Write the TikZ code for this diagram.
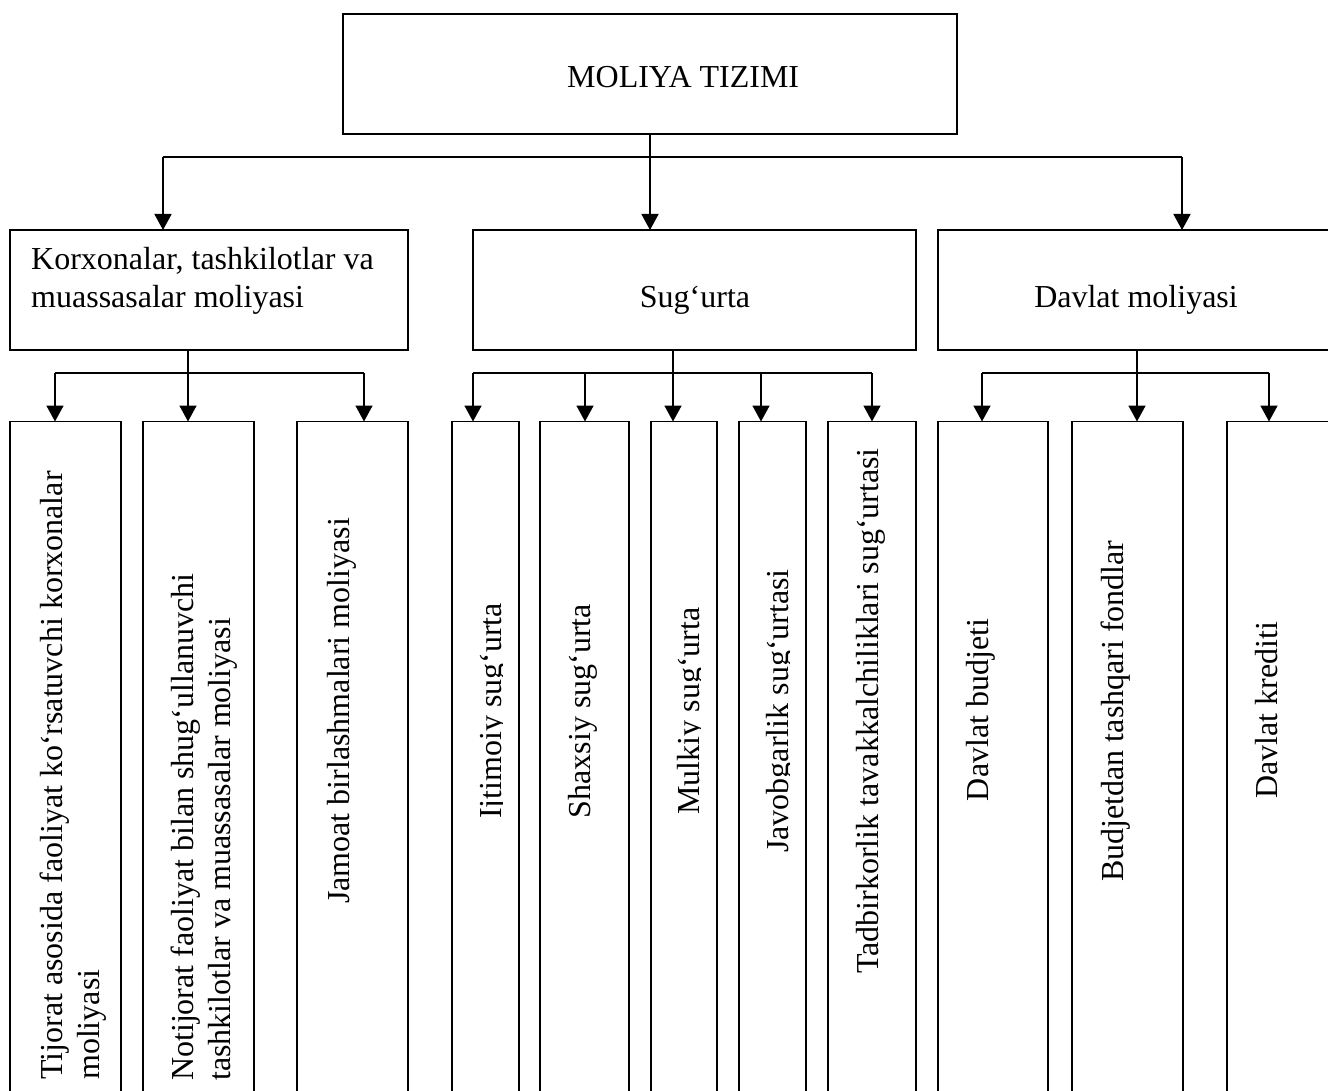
\documentclass[tikz,border=0pt]{standalone}
\usepackage{fontspec}
\setmainfont{Liberation Serif}
\usetikzlibrary{arrows.meta}
\begin{document}
\begin{tikzpicture}[x=1pt,y=-1pt,
  box/.style={draw, line width=1.8pt, rectangle, inner sep=0pt, outer sep=0pt},
  ln/.style={line width=1.8pt},
  arr/.style={line width=1.8pt, -{Triangle[width=17pt,length=16pt]}},
  txt/.style={inner sep=0pt, font=\fontsize{32}{37}\selectfont},
  vtxt/.style={txt, rotate=90}]
\useasboundingbox (0,0) rectangle (1328,1091);
\clip (0,0) rectangle (1328,1091);
% level 1
\node[box, minimum width=614pt, minimum height=120pt] (top) at (650,74) {};
% level 2
\node[box, minimum width=398pt, minimum height=120pt] (k) at (209,290) {};
\node[box, minimum width=443pt, minimum height=120pt] (s) at (694.5,290) {};
\node[box, minimum width=398pt, minimum height=120pt] (d) at (1137,290) {};
% level 3
\node[box, minimum width=111pt, minimum height=690pt] (k1) at (65.5,766.5) {};
\node[box, minimum width=111pt, minimum height=690pt] (k2) at (198.5,766.5) {};
\node[box, minimum width=111pt, minimum height=690pt] (k3) at (352.5,766.5) {};
\node[box, minimum width=67pt, minimum height=690pt] (s1) at (485.5,766.5) {};
\node[box, minimum width=89pt, minimum height=690pt] (s2) at (584.5,766.5) {};
\node[box, minimum width=66pt, minimum height=690pt] (s3) at (684,766.5) {};
\node[box, minimum width=67pt, minimum height=690pt] (s4) at (772.5,766.5) {};
\node[box, minimum width=88pt, minimum height=690pt] (s5) at (872,766.5) {};
\node[box, minimum width=110pt, minimum height=690pt] (d1) at (993,766.5) {};
\node[box, minimum width=111pt, minimum height=690pt] (d2) at (1127.5,766.5) {};
\node[box, minimum width=111pt, minimum height=690pt] (d3) at (1282.5,766.5) {};
% texts
\node[txt, anchor=base west] (toptxt) at (567,88) {MOLIYA TIZIMI};
\node[txt, anchor=base west] (ktxt1) at (31,270) {Korxonalar, tashkilotlar va};
\node[txt, anchor=base west] (ktxt2) at (31,308) {muassasalar moliyasi};
\node[txt, anchor=base] (stxt) at (695,308) {Sug‘urta};
\node[txt, anchor=base] (dtxt) at (1136,308) {Davlat moliyasi};
\node[vtxt, anchor=base west] (k1a) at (62,1080) {Tijorat asosida faoliyat ko‘rsatuvchi korxonalar};
\node[vtxt, anchor=base west] (k1b) at (99,1080) {moliyasi};
\node[vtxt, anchor=base west] (k2a) at (193,1081) {Notijorat faoliyat bilan shug‘ullanuvchi};
\node[vtxt, anchor=base west] (k2b) at (230,1081) {tashkilotlar va muassasalar moliyasi};
\node[vtxt, anchor=base] (k3t) at (349,711) {Jamoat birlashmalari moliyasi};
\begin{scope}
  \clip (452,421) rectangle (502,1091);
  \node[vtxt, anchor=base] (s1t) at (501,711) {Ijtimoiy sug‘urta};
\end{scope}
\node[vtxt, anchor=base] (s2t) at (590,711) {Shaxsiy sug‘urta};
\begin{scope}
  \clip (651,421) rectangle (700,1091);
  \node[vtxt, anchor=base] (s3t) at (699,711) {Mulkiy sug‘urta};
\end{scope}
\begin{scope}
  \clip (739,421) rectangle (789,1091);
  \node[vtxt, anchor=base] (s4t) at (788,711) {Javobgarlik sug‘urtasi};
\end{scope}
\node[vtxt, anchor=base] (s5t) at (878,711) {Tadbirkorlik tavakkalchiliklari sug‘urtasi};
\node[vtxt, anchor=base] (d1t) at (988,710) {Davlat budjeti};
\node[vtxt, anchor=base] (d2t) at (1123,711) {Budjetdan tashqari fondlar};
\node[vtxt, anchor=base] (d3t) at (1277,710) {Davlat krediti};
% connectors level 1 -> 2
\coordinate (j0) at (650,157);
\coordinate (h0L) at (163,157);
\coordinate (h0R) at (1182,157);
\draw[ln] (top.south) -- (j0);
\draw[ln] (h0L) -- (h0R);
\draw[arr] (h0L) -- (h0L |- k.north);
\draw[arr] (j0) -- (j0 |- s.north);
\draw[arr] (h0R) -- (h0R |- d.north);
% K -> children
\coordinate (kj) at (188,373);
\coordinate (kL) at (55,373);
\coordinate (kR) at (364,373);
\draw[ln] (kj |- k.south) -- (kj);
\draw[ln] (kL) -- (kR);
\draw[arr] (kL) -- (kL |- k1.north);
\draw[arr] (kj) -- (kj |- k2.north);
\draw[arr] (kR) -- (kR |- k3.north);
% S -> children
\coordinate (sj) at (673,373);
\coordinate (sL) at (473,373);
\coordinate (s2c) at (585,373);
\coordinate (s4c) at (761,373);
\coordinate (sR) at (872,373);
\draw[ln] (sj |- s.south) -- (sj);
\draw[ln] (sL) -- (sR);
\draw[arr] (sL) -- (sL |- s1.north);
\draw[arr] (s2c) -- (s2c |- s2.north);
\draw[arr] (sj) -- (sj |- s3.north);
\draw[arr] (s4c) -- (s4c |- s4.north);
\draw[arr] (sR) -- (sR |- s5.north);
% D -> children
\coordinate (dj) at (1137,373);
\coordinate (dL) at (982,373);
\coordinate (dR) at (1269,373);
\draw[ln] (dj |- d.south) -- (dj);
\draw[ln] (dL) -- (dR);
\draw[arr] (dL) -- (dL |- d1.north);
\draw[arr] (dj) -- (dj |- d2.north);
\draw[arr] (dR) -- (dR |- d3.north);
\end{tikzpicture}
\end{document}
